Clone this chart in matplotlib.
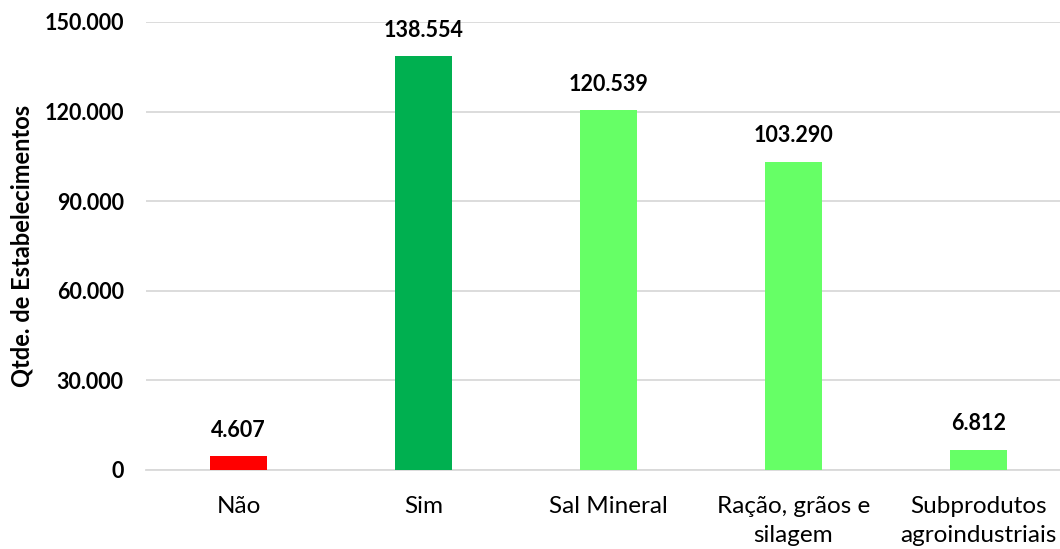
import matplotlib.pyplot as plt
from matplotlib.ticker import FuncFormatter

categorias = ['Não', 'Sim', 'Sal Mineral', 'Ração, grãos e\nsilagem', 'Subprodutos\nagroindustriais']
valores = [4607, 138554, 120539, 103290, 6812]
cores = ['#FF0000', '#00B050', '#66FF66', '#66FF66', '#66FF66']

plt.rcParams['font.family'] = ['Lato', 'DejaVu Sans']


def milhar(v, pos=None):
    return f'{int(v):,}'.replace(',', '.')


fig = plt.figure(figsize=(10.6, 5.49), dpi=100)
ax = fig.add_axes([146 / 1060, 79 / 549, 925 / 1060, 448 / 549])

x = range(len(categorias))
barras = ax.bar(x, valores, width=0.31, color=cores, zorder=3)

for b, v in zip(barras, valores):
    ax.annotate(milhar(v), (b.get_x() + b.get_width() / 2, v), xytext=(0, 11),
                textcoords='offset points', ha='center', va='bottom',
                fontsize=15.5, fontweight='bold')

ax.set_xlim(-0.5, len(categorias) - 0.5)
ax.set_ylim(0, 150000)
ax.set_yticks(range(0, 150001, 30000))
ax.yaxis.set_major_formatter(FuncFormatter(milhar))
ax.set_xticks(list(x))
ax.set_xticklabels(categorias, fontsize=17.5, linespacing=1.45)

ax.grid(axis='y', color='#D9D9D9', linewidth=1.3, zorder=0)
for s in ['top', 'right', 'left']:
    ax.spines[s].set_visible(False)
ax.spines['bottom'].set_color('#D9D9D9')
ax.spines['bottom'].set_linewidth(1.3)
ax.tick_params(axis='both', length=0)
ax.tick_params(axis='y', pad=16)
ax.tick_params(axis='x', pad=19)
for t in ax.get_yticklabels():
    t.set_fontsize(15.5)
    t.set_fontweight('bold')

ax.set_ylabel('Qtde. de Estabelecimentos', fontsize=17, fontweight='bold', labelpad=8)

fig.savefig('out.png', dpi=100)
